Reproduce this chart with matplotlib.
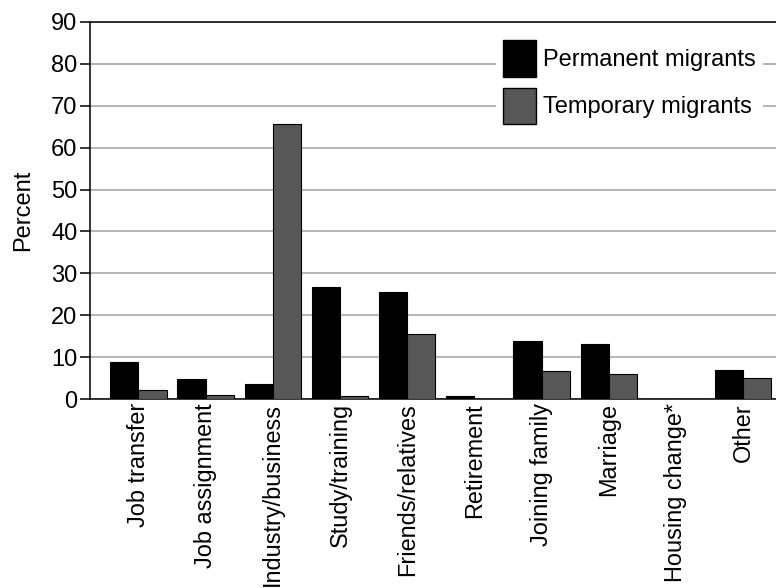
import matplotlib
matplotlib.use("Agg")
import matplotlib.pyplot as plt
import numpy as np
from matplotlib.patches import Patch

categories = ["Job transfer", "Job assignment", "Industry/business", "Study/training",
              "Friends/relatives", "Retirement", "Joining family", "Marriage",
              "Housing change*", "Other"]
permanent = [8.8, 4.7, 3.5, 26.8, 25.6, 0.7, 13.8, 13.1, 0.0, 6.9]
temporary = [2.2, 0.9, 65.6, 0.6, 15.6, 0.0, 6.6, 5.9, 0.0, 4.9]
yticks = [0, 10, 20, 30, 40, 50, 60, 70, 80, 90]
series_names = ["Permanent migrants", "Temporary migrants"]

plt.rcParams['font.family'] = ['Liberation Sans', 'DejaVu Sans']

W, H = 776, 588
fig = plt.figure(figsize=(W / 100, H / 100), dpi=100)
spacing = 67.2
left_px, top_px, bottom_px = 90, 22, 399
xmin, xmax = -0.72, 9.72
ax_w = (xmax - xmin) * spacing
ax = fig.add_axes([left_px / W, (H - bottom_px) / H, ax_w / W, (bottom_px - top_px) / H])

x = np.arange(len(categories))
bw = 0.42
ax.bar(x - bw, permanent, width=bw, align='edge', color='black', edgecolor='black',
       linewidth=0.8, zorder=3)
ax.bar(x, temporary, width=bw, align='edge', color='#575757', edgecolor='black',
       linewidth=0.8, zorder=3)

ax.set_xlim(xmin, xmax)
ax.set_ylim(0, 90)
ax.set_yticks(yticks)
ax.yaxis.grid(True, color='#a8a8a8', linewidth=1.2, zorder=0)
ax.set_axisbelow(True)
ax.set_xticks(x)
ax.set_xticklabels(categories, rotation=90, fontsize=16.9, va='top', ha='center')
ax.tick_params(axis='x', length=0, pad=3)
ax.tick_params(axis='y', length=7, width=1.1, labelsize=17, pad=2)
for s in ['left', 'bottom', 'top', 'right']:
    ax.spines[s].set_linewidth(1.1)
ax.spines['right'].set_visible(False)
ax.set_ylabel("Percent", fontsize=17)
ax.yaxis.set_label_coords((34 - left_px) / ax_w, 0.5)

handles = [Patch(facecolor='black', edgecolor='black'),
           Patch(facecolor='#575757', edgecolor='black')]
leg = ax.legend(handles, series_names, fontsize=17, frameon=True, fancybox=False,
                edgecolor='none', facecolor='white', framealpha=1,
                loc='upper left', bbox_to_anchor=(496 / W, 1 - 33 / H),
                bbox_transform=fig.transFigure, handlelength=1.4, handleheight=2.0,
                handletextpad=0.3, labelspacing=0.47, borderpad=0.3, borderaxespad=0)
leg.set_zorder(5)

fig.savefig("out.png", dpi=100)
